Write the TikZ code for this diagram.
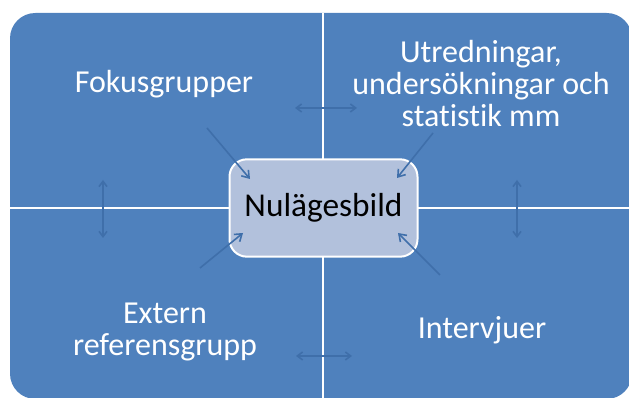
\documentclass[tikz,border=0pt]{standalone}
\usepackage{fontspec}
\setmainfont{Carlito}[Ligatures=NoCommon]
\usetikzlibrary{
  arrows.meta,
  positioning
}
\definecolor{nbBlue}{HTML}{4F81BD}
\definecolor{nbCore}{HTML}{B2C1DC}
\definecolor{nbArrow}{HTML}{3F6FAA}
\tikzset{
  quadtext/.style={text=white, font=\fontsize{24}{24}\selectfont, align=center, inner sep=0pt},
  core/.style={
    draw=white, line width=1.5pt, fill=nbCore, rounded corners=13pt,
    minimum width=141pt, minimum height=73pt, font=\fontsize{25}{25}\selectfont
  },
  divider/.style={white, line width=1.5pt},
  feed/.style={-{Straight Barb[length=5pt, width=7pt]}, line width=1.2pt, nbArrow},
  swap/.style={{Straight Barb[length=4pt, width=6pt]}-{Straight Barb[length=4pt, width=6pt]}, line width=1.2pt, nbArrow}
}
\begin{document}
\begin{tikzpicture}[x=0.75pt, y=-0.75pt]
  \useasboundingbox (0,0) rectangle (629,398);
  \clip (0,0) rectangle (629,398);
  % matrix background
  \fill[nbBlue, rounded corners=19pt] (10,13) rectangle (632,399);
  \draw[divider] (323,13) -- (323,399);
  \draw[divider] (10,208) -- (632,208);
  \node[core] (core) at (323.5,208) {Nulägesbild};
  % quadrant texts
  \node[quadtext] (fokus) at (164,84) {Fokusgrupper};
  \node[quadtext] (utred) at (481,84) {Utredningar,\\undersökningar och\\statistik mm};
  \node[quadtext] (extern) at (165,332) {Extern\\referensgrupp};
  \node[quadtext] (intervju) at (482,330) {Intervjuer};
  % arrow ends
  \coordinate (fokTail) at (207,128);
  \coordinate (fokHead) at (250,179);
  \coordinate (utrTail) at (433,133);
  \coordinate (utrHead) at (397,178);
  \coordinate (extTail) at (200,268);
  \coordinate (extHead) at (243,233);
  \coordinate (intTail) at (440,275);
  \coordinate (intHead) at (398,233);
  \coordinate (topL) at (295,108);
  \coordinate (topR) at (357,108);
  \coordinate (botL) at (296,356);
  \coordinate (botR) at (352,356);
  \coordinate (leftT) at (103,180);
  \coordinate (leftB) at (103,238);
  \coordinate (rightT) at (517,180);
  \coordinate (rightB) at (517,238);
  \foreach \a/\b in {fokTail/fokHead,utrTail/utrHead,extTail/extHead,intTail/intHead}{\draw[feed] (\a) -- (\b);}
  \foreach \a/\b in {topL/topR,botL/botR,leftT/leftB,rightT/rightB}{\draw[swap] (\a) -- (\b);}
\end{tikzpicture}
\end{document}
